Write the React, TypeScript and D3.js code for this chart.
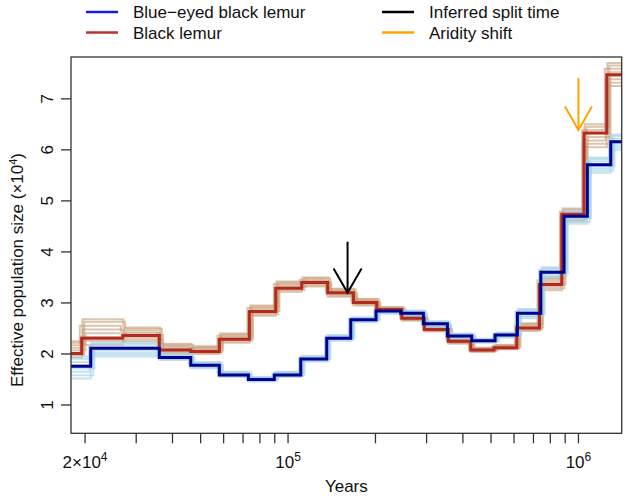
import React from "react";
import * as d3 from "d3";

// ---- Data ----
// Blue-eyed black lemur: step start times (years) and Ne (x10^4)
const blueTimes = [17890, 20920, 36040, 46230, 58000, 73010, 89700, 110600, 135900, 164400, 200900, 244400, 292400, 353700, 429100, 516300, 616100, 741900, 892000, 1073000, 1292000];
const blueNe = [1.76, 2.11, 1.93, 1.78, 1.59, 1.50, 1.59, 1.90, 2.31, 2.67, 2.84, 2.80, 2.59, 2.35, 2.26, 2.37, 2.80, 3.60, 4.70, 5.71, 6.16];
const blueBootLow = [1.52, 1.95, 1.88, 1.72, 1.55, 1.46, 1.55, 1.85, 2.26, 2.62, 2.79, 2.74, 2.53, 2.30, 2.22, 2.32, 2.70, 3.50, 4.55, 5.55, 6.00];
const blueBootHigh = [1.95, 2.22, 2.00, 1.84, 1.65, 1.55, 1.65, 1.96, 2.37, 2.72, 2.88, 2.85, 2.64, 2.40, 2.30, 2.42, 2.88, 3.70, 4.80, 5.85, 6.30];

// Black lemur
const redTimes = [17890, 19480, 26960, 36040, 46230, 58000, 73590, 90700, 111500, 136900, 167900, 202000, 246400, 294700, 356500, 425700, 512300, 613100, 733700, 876000, 1045000, 1252000];
const redNe = [2.01, 2.31, 2.36, 2.08, 2.05, 2.29, 2.83, 3.29, 3.40, 3.20, 3.01, 2.87, 2.70, 2.48, 2.25, 2.08, 2.12, 2.51, 3.36, 4.74, 6.33, 7.47];
const redBootLow = [1.93, 2.18, 2.25, 2.02, 2.00, 2.22, 2.75, 3.22, 3.32, 3.12, 2.95, 2.82, 2.65, 2.44, 2.20, 2.04, 2.09, 2.45, 3.25, 4.60, 6.05, 7.25];
const redBootHigh = [2.25, 2.68, 2.52, 2.20, 2.15, 2.40, 2.95, 3.42, 3.50, 3.28, 3.08, 2.92, 2.75, 2.55, 2.30, 2.12, 2.18, 2.60, 3.50, 4.85, 6.50, 7.70];

const xDomain = [17890, 1409000];
const yDomain = [0.445, 7.82];
const yTicks = [1, 2, 3, 4, 5, 6, 7];
const xMinorTicks = [20000, 30000, 40000, 50000, 60000, 70000, 80000, 90000, 100000, 200000, 300000, 400000, 500000, 600000, 700000, 800000, 900000, 1000000];
const xLabelTicks = [
  { v: 20000, pre: "2×10", exp: "4" },
  { v: 100000, pre: "10", exp: "5" },
  { v: 1000000, pre: "10", exp: "6" },
];

// Event arrows
const splitTime = 160300;
const splitArrow = [4.2, 3.2];
const aridityTime = 1000000;
const aridityArrow = [7.41, 6.39];

// Bootstrap replicate placement within the band (fraction) and time jitter
const bootFracs = [0, 0.15, 0.3, 0.45, 0.6, 0.75, 0.9, 1];
const bootShift = [1.0, 1.02, 0.99, 1.03, 1.01, 0.985, 1.02, 1.005];

const legendItems = [
  { label: "Blue\u2212eyed black lemur", color: "#1a1ae6", col: 0, row: 0 },
  { label: "Black lemur", color: "#b03a32", col: 0, row: 1 },
  { label: "Inferred split time", color: "#000000", col: 1, row: 0 },
  { label: "Aridity shift", color: "#ffa500", col: 1, row: 1 },
];

const W = 625, H = 497;
const L = 71, R = 621.7, T = 57, B = 433.3;
const FONT = "'Liberation Sans', Arial, Helvetica, sans-serif";
const FS = 17;

export default function App() {
  const x = d3.scaleLog().domain(xDomain).range([L, R]);
  const y = d3.scaleLinear().domain(yDomain).range([B, T]);

  const stepPath = (times: number[], vals: number[], shift = 1) => {
    const pts: [number, number][] = times.map((t, i) => [x(t * (i === 0 ? 1 : shift)), y(vals[i])]);
    pts.push([x(xDomain[1]) + 5, y(vals[vals.length - 1])]);
    pts[0][0] = L - 5;
    return d3.line().curve(d3.curveStepAfter)(pts) as string;
  };

  const bootLines = (times: number[], lo: number[], hi: number[], color: string) =>
    bootFracs.map((f, k) => {
      const vals = lo.map((l, i) => l + f * (hi[i] - l));
      return (
        <path key={k} d={stepPath(times, vals, bootShift[k])} fill="none" stroke={color} strokeWidth={2} strokeOpacity={0.6} />
      );
    });

  const arrow = (t: number, v: number[], color: string, len: number) => {
    const ax = x(t);
    const y0 = y(v[0]);
    const y1 = y(v[1]);
    const ang = (30 * Math.PI) / 180;
    const dx = len * Math.sin(ang);
    const dy = len * Math.cos(ang);
    return (
      <g stroke={color} strokeWidth={2} fill="none">
        <line x1={ax} y1={y0} x2={ax} y2={y1} />
        <polyline points={`${ax - dx},${y1 - dy} ${ax},${y1} ${ax + dx},${y1 - dy}`} />
      </g>
    );
  };

  const yMid = 270;

  return (
    <svg width={W} height={H} style={{ position: "absolute", left: 0, top: 0, background: "#fff" }} fontFamily={FONT}>
      <defs>
        <clipPath id="plotclip">
          <rect x={L} y={T} width={R - L} height={B - T} />
        </clipPath>
      </defs>
      <rect width={W} height={H} fill="#fff" />

      <g clipPath="url(#plotclip)">
        {bootLines(redTimes, redBootLow, redBootHigh, "#c79f76")}
        {bootLines(blueTimes, blueBootLow, blueBootHigh, "#9fcfe6")}
        <path d={stepPath(redTimes, redNe)} fill="none" stroke="#b22a22" strokeWidth={3} />
        <path d={stepPath(blueTimes, blueNe)} fill="none" stroke="#00008f" strokeWidth={3} />
        {arrow(splitTime, splitArrow, "#000", 28)}
        {arrow(aridityTime, aridityArrow, "#ffa500", 27)}
      </g>

      {/* plot box */}
      <rect x={L} y={T} width={R - L} height={B - T} fill="none" stroke="#333" strokeWidth={1.3} />

      {/* y axis */}
      {yTicks.map((v) => (
        <g key={v}>
          <line x1={L - 10} x2={L} y1={y(v)} y2={y(v)} stroke="#333" strokeWidth={1.3} />
          <text x={53} y={y(v)} transform={`rotate(-90 53 ${y(v)})`} textAnchor="middle" fontSize={FS} fill="#111">
            {v}
          </text>
        </g>
      ))}
      <text x={23} y={yMid} transform={`rotate(-90 23 ${yMid})`} textAnchor="middle" fontSize={FS} fill="#111">
        Effective population size (×10
        <tspan dy={-6} fontSize={11}>4</tspan>
        <tspan dy={6}>)</tspan>
      </text>

      {/* x axis */}
      {xMinorTicks.map((v) => (
        <line key={v} x1={x(v)} x2={x(v)} y1={B} y2={B + 10} stroke="#333" strokeWidth={1.3} />
      ))}
      {xLabelTicks.map((t) => (
        <text key={t.v} x={x(t.v)} y={468} textAnchor="middle" fontSize={FS} fill="#111">
          {t.pre}
          <tspan dy={-7} fontSize={12}>{t.exp}</tspan>
        </text>
      ))}
      <text x={(L + R) / 2} y={492} textAnchor="middle" fontSize={FS} fill="#111">
        Years
      </text>

      {/* legend */}
      {legendItems.map((it) => {
        const lx = it.col === 0 ? 86 : 382;
        const ly = it.row === 0 ? 12 : 32.5;
        return (
          <g key={it.label}>
            <line x1={lx} x2={lx + 32} y1={ly} y2={ly} stroke={it.color} strokeWidth={2.5} />
            <text x={lx + 47} y={ly + 6} fontSize={FS} fill="#111">
              {it.label}
            </text>
          </g>
        );
      })}
    </svg>
  );
}
